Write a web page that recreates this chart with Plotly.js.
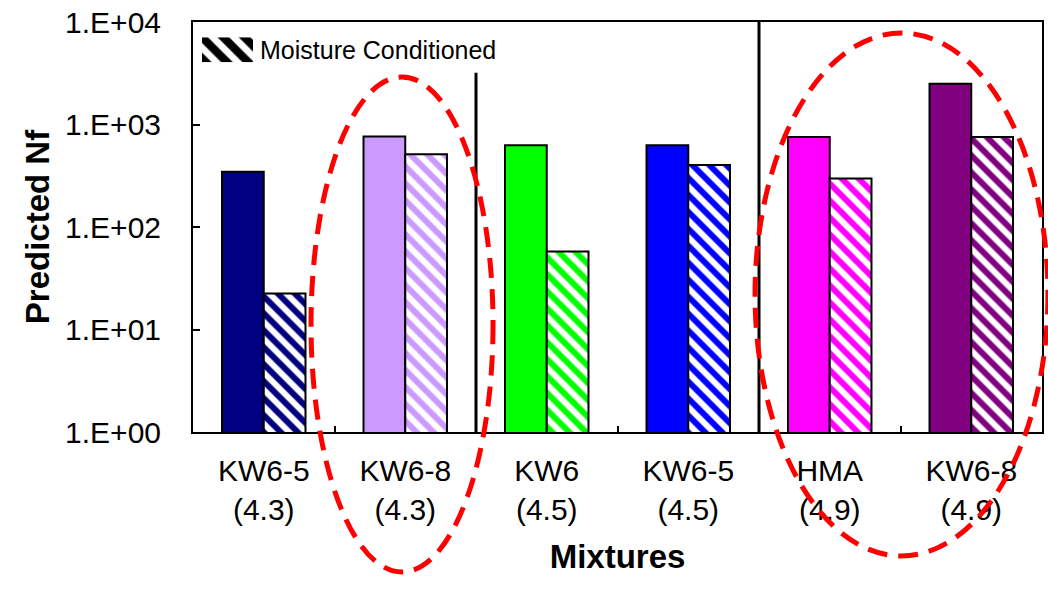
<!DOCTYPE html>
<html>
<head>
<meta charset="utf-8">
<script src="https://cdn.plot.ly/plotly-3.0.1.min.js"></script>
<style>
html,body{margin:0;padding:0;background:#fff;}
#chart{width:1048px;height:603px;}
</style>
</head>
<body>
<div id="chart"></div>
<script>
// ---- data ----
const mixtures = ["KW6-5", "KW6-8", "KW6", "KW6-5", "HMA", "KW6-8"];
const binderContent = ["(4.3)", "(4.3)", "(4.5)", "(4.5)", "(4.9)", "(4.9)"];
const unconditionedNf = [346, 763, 629, 629, 757, 2500];
const conditionedNf = [22.5, 514, 57.6, 402, 298, 757];
const barColors = ["#000080", "#CC99FF", "#00FF00", "#0000FF", "#FF00FF", "#800080"];
const yTickVals = [1, 10, 100, 1000, 10000];
const yTickText = ["1.E+00", "1.E+01", "1.E+02", "1.E+03", "1.E+04"];
const legendLabel = "Moisture Conditioned";
const xTitle = "Mixtures";
const yTitle = "Predicted Nf";

const categories = mixtures.map((m, i) => m + "<br>" + binderContent[i]);
const FONT = "Arial, 'Liberation Sans', sans-serif";

const traces = [
  {
    type: "bar", x: categories, y: unconditionedNf, name: "Unconditioned",
    marker: {color: barColors, line: {color: "#000", width: 2}},
    showlegend: false, hoverinfo: "x+y"
  },
  {
    type: "bar", x: categories, y: conditionedNf, name: legendLabel,
    marker: {
      color: "#ffffff",
      line: {color: "#000", width: 2},
      pattern: {shape: "\\", fgcolor: barColors, bgcolor: "#ffffff", fillmode: "overlay", fgopacity: 1, size: 12, solidity: 0.5}
    },
    showlegend: false, hoverinfo: "x+y"
  },
  {
    // legend swatch drawn as a tiny bar chart
    type: "bar", x: [0], y: [1], width: [1], xaxis: "x2", yaxis: "y2",
    marker: {color: "#ffffff", line: {width: 0},
      pattern: {shape: "\\", fgcolor: "#000000", bgcolor: "#ffffff", fillmode: "overlay", fgopacity: 1, size: 15, solidity: 0.55}},
    showlegend: false, hoverinfo: "skip"
  }
];

const layout = {
  width: 1048, height: 603,
  margin: {l: 193, r: 6, t: 22, b: 171},
  paper_bgcolor: "#ffffff", plot_bgcolor: "#ffffff",
  font: {family: FONT, color: "#000"},
  showlegend: false,
  barmode: "group", bargap: 0.41, bargroupgap: 0,
  xaxis: {
    type: "category", showline: true, mirror: true, linecolor: "#000", linewidth: 2,
    ticks: "inside", tickson: "boundaries", ticklen: 6, tickwidth: 2, tickcolor: "#000",
    showgrid: false, zeroline: false, tickangle: 0,
    tickfont: {family: FONT, size: 30, color: "#000"}, ticklabelstandoff: 11,
    title: {text: "<b>" + xTitle + "</b>", font: {family: FONT, size: 33, color: "#000"}, standoff: 20}
  },
  yaxis: {
    type: "log", range: [0, 4], showline: true, mirror: true, linecolor: "#000", linewidth: 2,
    ticks: "inside", ticklen: 7, tickwidth: 2, tickcolor: "#000",
    tickvals: yTickVals, ticktext: yTickText, showgrid: false, zeroline: false,
    tickfont: {family: FONT, size: 30, color: "#000"}, ticklabelstandoff: 24,
    title: {text: "<b>" + yTitle + "</b>", font: {family: FONT, size: 33, color: "#000"}, standoff: 6}
  },
  xaxis2: {domain: [0.0106, 0.0707], anchor: "y2", range: [-0.5, 0.5], visible: false, fixedrange: true},
  yaxis2: {domain: [0.902, 0.963], anchor: "x2", range: [0, 1], visible: false, fixedrange: true},
  annotations: [
    {xref: "paper", yref: "paper", x: 0.077, y: 0.932, xanchor: "left", yanchor: "middle",
     text: legendLabel, showarrow: false, font: {family: FONT, size: 25, color: "#000"}}
  ],
  shapes: [
    {type: "line", xref: "x", yref: "paper", x0: 1.5, x1: 1.5, y0: 0, y1: 0.876,
     line: {color: "#000", width: 3}},
    {type: "line", xref: "x", yref: "paper", x0: 3.5, x1: 3.5, y0: 0, y1: 1,
     line: {color: "#000", width: 3}},
    {type: "circle", xref: "paper", yref: "paper", x0: 0.139, x1: 0.3534, y0: -0.3415, y1: 0.8659,
     line: {color: "#FF0000", width: 5, dash: "20px,11px"}, fillcolor: "rgba(0,0,0,0)", layer: "above"},
    {type: "circle", xref: "paper", yref: "paper", x0: 0.662, x1: 1.007, y0: -0.3024, y1: 0.9732,
     line: {color: "#FF0000", width: 5, dash: "20px,11px"}, fillcolor: "rgba(0,0,0,0)", layer: "above"}
  ]
};

Plotly.newPlot("chart", traces, layout, {staticPlot: true, displayModeBar: false});
</script>
</body>
</html>
